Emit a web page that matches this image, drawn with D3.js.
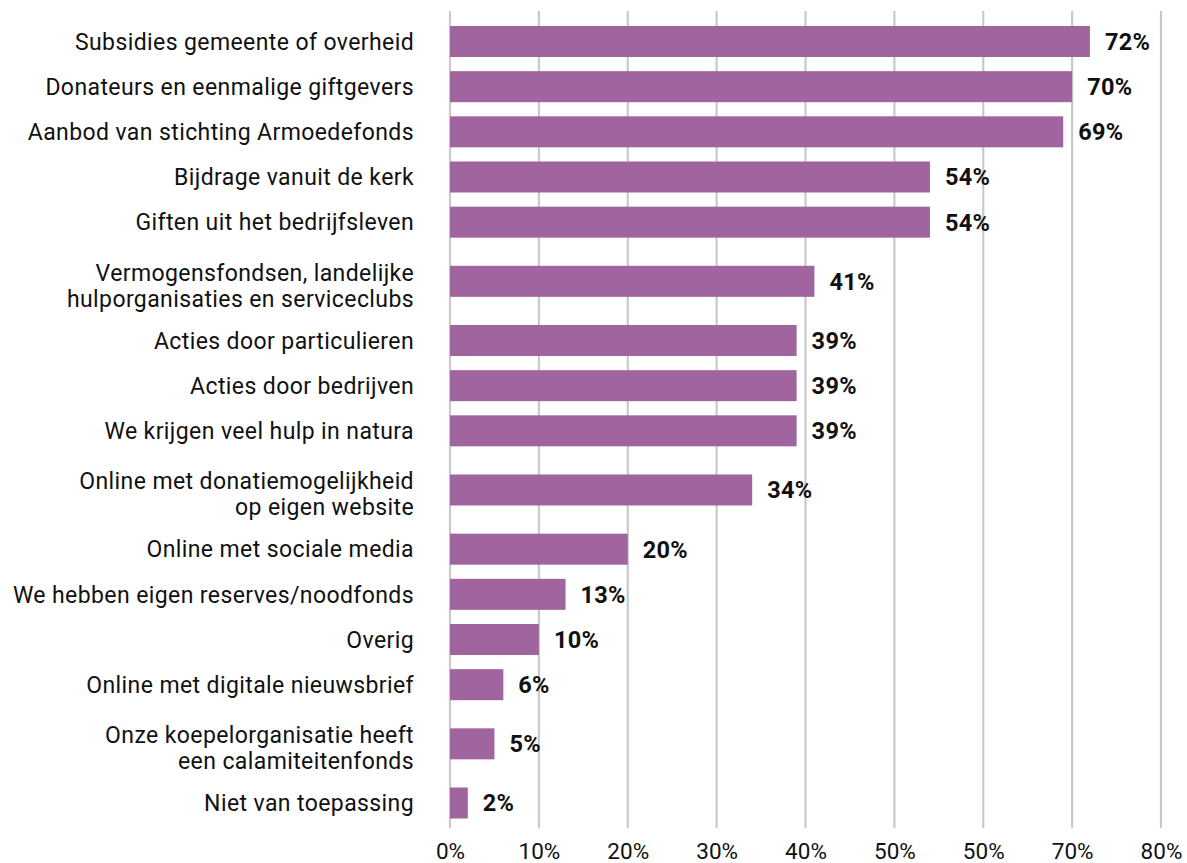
<!DOCTYPE html>
<html>
<head>
<meta charset="utf-8">
<script src="https://cdn.jsdelivr.net/npm/d3@7/dist/d3.min.js"></script>
<style>
  html, body { margin: 0; padding: 0; background: #fff; }
  svg { display: block; }
</style>
</head>
<body>
<svg id="chart" width="1187" height="863"></svg>
<script>
const categories = [
  "Subsidies gemeente of overheid",
  "Donateurs en eenmalige giftgevers",
  "Aanbod van stichting Armoedefonds",
  "Bijdrage vanuit de kerk",
  "Giften uit het bedrijfsleven",
  "Vermogensfondsen, landelijke\nhulporganisaties en serviceclubs",
  "Acties door particulieren",
  "Acties door bedrijven",
  "We krijgen veel hulp in natura",
  "Online met donatiemogelijkheid\nop eigen website",
  "Online met sociale media",
  "We hebben eigen reserves/noodfonds",
  "Overig",
  "Online met digitale nieuwsbrief",
  "Onze koepelorganisatie heeft\neen calamiteitenfonds",
  "Niet van toepassing"
];
const values = [72, 70, 69, 54, 54, 41, 39, 39, 39, 34, 20, 13, 10, 6, 5, 2];
const tickValues = [0, 10, 20, 30, 40, 50, 60, 70, 80];
const tickLabels = ["0%", "10%", "20%", "30%", "40%", "50%", "50%", "70%", "80%"];

const svg = d3.select("#chart");
const left = 450, right = 1161;
const gridTop = 11, gridBottom = 828;

const x = d3.scaleLinear().domain([0, 80]).range([left, right]);

// vertical slot layout: multi-line rows take extra room
const extra = 0.62;
const rows = categories.map(c => c.split("\n"));
let acc = 0;
const slotCenters = rows.map(lines => {
  const h = 1 + extra * (lines.length - 1);
  const c = acc + h / 2;
  acc += h;
  return c;
});
const firstC = slotCenters[0], lastC = slotCenters[slotCenters.length - 1];
const y = d3.scaleLinear().domain([firstC, lastC]).range([41.5, 803]);
const barH = 31;

const fontMain = "Roboto, 'DejaVu Sans', sans-serif";

// gridlines
svg.append("g")
  .selectAll("line")
  .data(tickValues)
  .join("line")
  .attr("x1", d => x(d)).attr("x2", d => x(d))
  .attr("y1", gridTop).attr("y2", gridBottom)
  .attr("stroke", "#c9c9c9")
  .attr("stroke-width", 2.2);

// bars
svg.append("g")
  .selectAll("rect")
  .data(values)
  .join("rect")
  .attr("x", x(0))
  .attr("y", (d, i) => y(slotCenters[i]) - barH / 2)
  .attr("width", d => x(d) - x(0))
  .attr("height", barH)
  .attr("fill", "#a0649f");

// value labels
svg.append("g")
  .selectAll("text")
  .data(values)
  .join("text")
  .attr("x", d => x(d) + 15)
  .attr("y", (d, i) => y(slotCenters[i]))
  .attr("dy", "0.36em")
  .attr("font-family", fontMain)
  .attr("font-weight", "bold")
  .attr("font-size", 23.5)
  .attr("letter-spacing", 0.3)
  .attr("fill", "#111")
  .text(d => d + "%");

// category labels
const lineH = 26;
const catG = svg.append("g");
rows.forEach((lines, i) => {
  const cy = y(slotCenters[i]) + (lines.length > 1 ? 4 : 0);
  const t = catG.append("text")
    .attr("text-anchor", "end")
    .attr("font-family", fontMain)
    .attr("font-size", 23)
    .attr("letter-spacing", 0.4)
    .attr("fill", "#111");
  lines.forEach((ln, j) => {
    t.append("tspan")
      .attr("x", 414)
      .attr("y", cy + (j - (lines.length - 1) / 2) * lineH)
      .attr("dy", "0.36em")
      .text(ln);
  });
});

// x axis tick labels
const axis = d3.axisBottom(x)
  .tickValues(tickValues)
  .tickSize(0)
  .tickPadding(0)
  .tickFormat((d, i) => tickLabels[i]);
const ax = svg.append("g")
  .attr("transform", `translate(0, ${gridBottom + 15})`)
  .call(axis);
ax.select(".domain").remove();
ax.selectAll("text")
  .attr("font-family", fontMain)
  .attr("font-size", 22.5)
  .attr("fill", "#111");
</script>
</body>
</html>
